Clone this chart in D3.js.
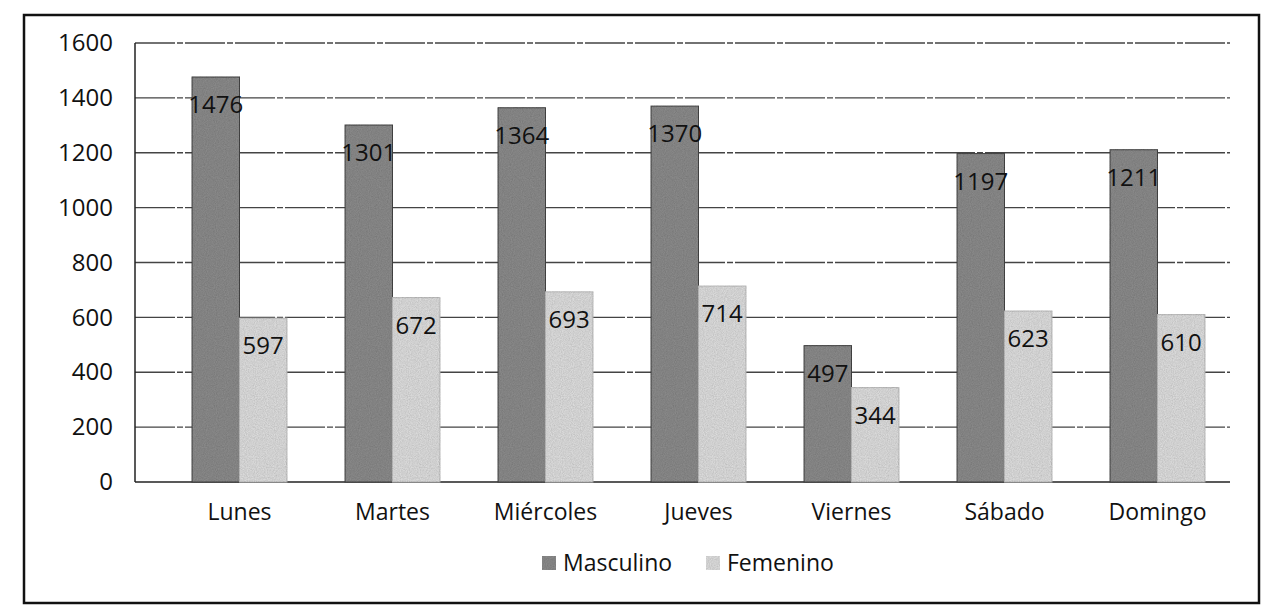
<!DOCTYPE html>
<html>
<head>
<meta charset="utf-8">
<title>Masculino / Femenino por día</title>
<script src="https://d3js.org/d3.v7.min.js"></script>
<style>
  body { margin: 0; background: #fff; }
  text { font-family: "Open Sans", "DejaVu Sans", sans-serif; fill: #111; }
</style>
</head>
<body>
<div id="chart"></div>
<script>
  // data
  var dias = ["Lunes", "Martes", "Miércoles", "Jueves", "Viernes", "Sábado", "Domingo"];
  var masculino = [1476, 1301, 1364, 1370, 497, 1197, 1211];
  var femenino = [597, 672, 693, 714, 344, 623, 610];
  var series = ["Masculino", "Femenino"];
  var yTicks = [0, 200, 400, 600, 800, 1000, 1200, 1400, 1600];

  var W = 1261, H = 605;
  var margin = {top: 43, right: 31, bottom: 123, left: 135};
  var width = W - margin.left - margin.right,
      height = H - margin.top - margin.bottom;

  var svg = d3.select("#chart").append("svg")
    .attr("width", W).attr("height", H);

  // grainy texture, the original is a photocopy
  var defs = svg.append("defs");
  var f = defs.append("filter").attr("id", "grain");
  f.append("feTurbulence").attr("type", "fractalNoise").attr("baseFrequency", 0.9)
    .attr("numOctaves", 2).attr("result", "noise");
  f.append("feColorMatrix").attr("in", "noise").attr("type", "matrix")
    .attr("values", "0 0 0 0 0  0 0 0 0 0  0 0 0 0 0  0 0 0 0.4 -0.08").attr("result", "dots");
  f.append("feComposite").attr("in", "dots").attr("in2", "SourceGraphic").attr("operator", "in").attr("result", "d2");
  f.append("feMerge").selectAll("feMergeNode").data(["SourceGraphic", "d2"]).enter()
    .append("feMergeNode").attr("in", function(d) { return d; });

  // outer frame
  svg.append("rect")
    .attr("x", 24).attr("y", 15).attr("width", W - 26).attr("height", H - 17)
    .attr("fill", "none").attr("stroke", "#111").attr("stroke-width", 2.5);

  var g = svg.append("g").attr("transform", "translate(" + margin.left + "," + margin.top + ")");

  var x0 = d3.scaleBand().domain(dias).range([28, 28 + 7 * 153]).paddingInner(0.38).paddingOuter(0.19);
  var x1 = d3.scaleBand().domain(series).range([0, x0.bandwidth()]);
  var y = d3.scaleLinear().domain([0, 1600]).range([height, 0]);
  var color = d3.scaleOrdinal().domain(series).range(["#8a8a8a", "#dcdcdc"]);

  // gridlines
  g.append("g")
    .selectAll("line").data(yTicks.slice(1)).enter().append("line")
    .attr("x1", 0).attr("x2", width)
    .attr("y1", function(d) { return y(d); }).attr("y2", function(d) { return y(d); })
    .attr("stroke", "#444").attr("stroke-width", 1.3).attr("stroke-dasharray", "40,2,6,2");

  // y axis labels
  var yAxis = d3.axisLeft(y).tickValues(yTicks).tickFormat(d3.format("d")).tickSize(0).tickPadding(22);
  g.append("g").call(yAxis)
    .call(function(a) { a.select(".domain").remove(); })
    .selectAll("text").style("font-size", "24px").attr("fill", "#111");

  // axis lines
  g.append("line").attr("x1", 0).attr("x2", 0).attr("y1", 0).attr("y2", height)
    .attr("stroke", "#222").attr("stroke-width", 1.5);
  g.append("line").attr("x1", 0).attr("x2", width).attr("y1", height).attr("y2", height)
    .attr("stroke", "#222").attr("stroke-width", 1.5);

  var rows = dias.map(function(d, i) {
    return {dia: d, vals: [{k: "Masculino", v: masculino[i]}, {k: "Femenino", v: femenino[i]}]};
  });

  var groups = g.selectAll(".grp").data(rows).enter().append("g")
    .attr("transform", function(d) { return "translate(" + x0(d.dia) + ",0)"; });

  groups.selectAll("rect").data(function(d) { return d.vals; }).enter().append("rect")
    .attr("x", function(d) { return x1(d.k); })
    .attr("y", function(d) { return y(d.v); })
    .attr("width", x1.bandwidth())
    .attr("height", function(d) { return height - y(d.v); })
    .attr("fill", function(d) { return color(d.k); })
    .attr("stroke", function(d) { return d.k === "Masculino" ? "#444" : "#bbb"; })
    .attr("stroke-width", 1)
    .attr("filter", "url(#grain)");

  groups.selectAll(".lbl").data(function(d) { return d.vals; }).enter().append("text")
    .attr("class", "lbl")
    .attr("x", function(d) { return x1(d.k) + x1.bandwidth() / 2; })
    .attr("y", function(d) { return y(d.v) + 36; })
    .attr("text-anchor", "middle")
    .style("font-size", "24px")
    .text(function(d) { return d.v; });

  // category labels
  var xAxis = d3.axisBottom(x0).tickSize(0).tickPadding(22);
  g.append("g").attr("transform", "translate(0," + height + ")").call(xAxis)
    .call(function(a) { a.select(".domain").remove(); })
    .selectAll("text").style("font-size", "23px").attr("fill", "#111");

  // legend
  var legend = svg.append("g").attr("transform", "translate(542,563)");
  var li = legend.selectAll("g").data(series).enter().append("g")
    .attr("transform", function(d, i) { return "translate(" + (i * 164) + ",0)"; });
  li.append("rect").attr("x", 0).attr("y", -7).attr("width", 14).attr("height", 14)
    .attr("fill", function(d) { return color(d); }).attr("filter", "url(#grain)");
  li.append("text").attr("x", 21).attr("y", 8).style("font-size", "23px").text(function(d) { return d; });
</script>
</body>
</html>
